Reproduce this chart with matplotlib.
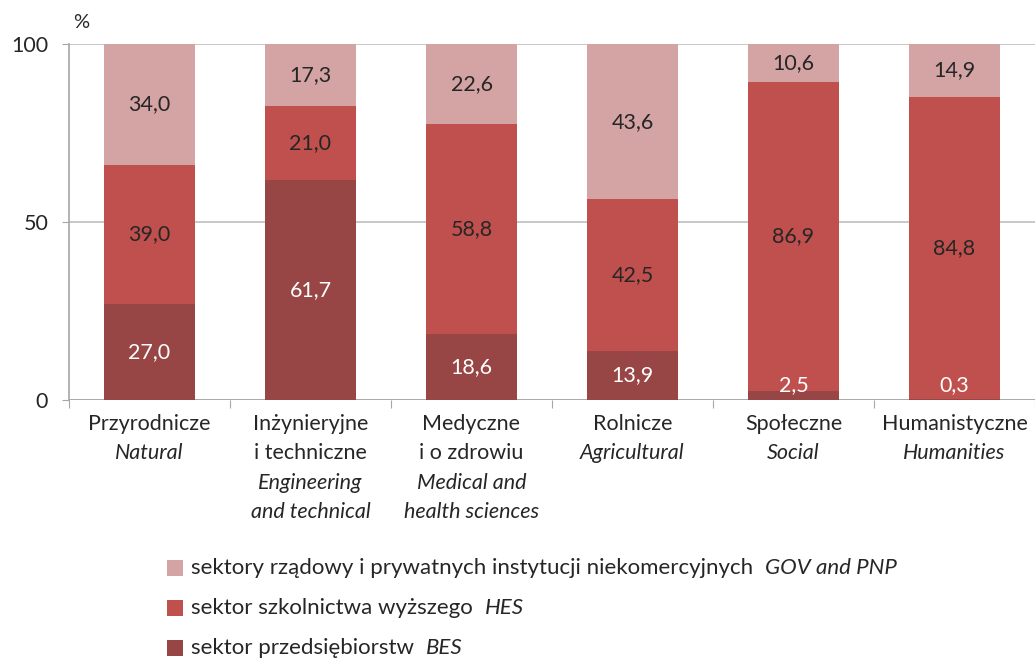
import matplotlib
matplotlib.use("Agg")
import matplotlib.pyplot as plt
from matplotlib.patches import Rectangle
import matplotlib.transforms as mtransforms
import numpy as np

plt.rcParams['font.family'] = ['Lato', 'DejaVu Sans']

categories_pl = ["Przyrodnicze", "Inżynieryjne\ni techniczne", "Medyczne\ni o zdrowiu",
                 "Rolnicze", "Społeczne", "Humanistyczne"]
categories_en = ["Natural", "Engineering\nand technical", "Medical and\nhealth sciences",
                 "Agricultural", "Social", "Humanities"]
bes = [27.0, 61.7, 18.6, 13.9, 2.5, 0.3]
hes = [39.0, 21.0, 58.8, 42.5, 86.9, 84.8]
gov = [34.0, 17.3, 22.6, 43.6, 10.6, 14.9]

legend_pl = ["sektory rządowy i prywatnych instytucji niekomercyjnych", "sektor szkolnictwa wyższego", "sektor przedsiębiorstw"]
legend_en = ["GOV and PNP", "HES", "BES"]

c_gov = "#D4A3A3"
c_hes = "#C0504D"
c_bes = "#984545"
txt = "#262626"

W, H = 1035, 658
fig = plt.figure(figsize=(W/100, H/100), dpi=100)
ax_left = 69
ax = fig.add_axes([ax_left/W, 1-400/H, 1-ax_left/W, 356/H])

x = np.arange(len(categories_pl))
w = 0.565
bes_a = np.array(bes); hes_a = np.array(hes); gov_a = np.array(gov)
ax.bar(x, bes_a, w, color=c_bes, zorder=3)
ax.bar(x, hes_a, w, bottom=bes_a, color=c_hes, zorder=3)
ax.bar(x, gov_a, w, bottom=bes_a + hes_a, color=c_gov, zorder=3)

fs = 15.5
def fmt(v):
    return f"{v:.1f}".replace(".", ",")
for i in range(len(x)):
    yb = max(bes_a[i] / 2, 4.3)
    ax.text(x[i], yb, fmt(bes_a[i]), ha="center", va="center", color="white", fontsize=fs, zorder=4)
    ax.text(x[i], bes_a[i] + hes_a[i] / 2, fmt(hes_a[i]), ha="center", va="center", color=txt, fontsize=fs, zorder=4)
    ax.text(x[i], bes_a[i] + hes_a[i] + gov_a[i] / 2, fmt(gov_a[i]), ha="center", va="center", color=txt, fontsize=fs, zorder=4)

ax.set_xlim(-0.5, len(x) - 0.53)
ax.set_ylim(0, 100)
ax.set_yticks([0, 50, 100])
ax.set_yticklabels(["0", "50", "100"], fontsize=fs, color=txt)
ax.yaxis.grid(True, color="#BFBFBF", linewidth=1.2, zorder=0)
ax.tick_params(axis="y", length=5, color="#A6A6A6", pad=10)
for s in ["top", "right", "bottom"]:
    ax.spines[s].set_visible(False)
ax.spines["left"].set_color("#A6A6A6")
ax.spines["left"].set_linewidth(1.2)

ax.set_xticks(np.arange(-0.5, len(x) + 0.5, 1.0))
ax.set_xticklabels([])
ax.tick_params(axis="x", length=5.5, color="#A6A6A6")
ax.axhline(0, color="#A6A6A6", linewidth=1.2, zorder=2)

blend = mtransforms.blended_transform_factory(ax.transData, fig.transFigure)
for i in range(len(x)):
    lines = [(ln, "normal") for ln in categories_pl[i].split("\n")] + \
            [(ln, "italic") for ln in categories_en[i].split("\n")]
    for k, (ln, st) in enumerate(lines):
        ypx = 424 + k * 29.3
        ax.text(x[i], 1 - ypx / H, ln, transform=blend, ha="center", va="center",
                fontsize=fs, color=txt, style=st)

fig.text(73/W, 1 - 22/H, "%", ha="left", va="center", fontsize=fs - 1, color=txt)

fig.canvas.draw()
renderer = fig.canvas.get_renderer()
leg_cols = [c_gov, c_hes, c_bes]
ys = [568, 608, 648]
lfs = 16
for col, ypx, tpl, ten in zip(leg_cols, ys, legend_pl, legend_en):
    yf = 1 - ypx / H
    fig.add_artist(Rectangle((167/W, yf - 8/H), 16/W, 16/H, transform=fig.transFigure,
                             facecolor=col, edgecolor="none"))
    t = fig.text(191/W, yf, tpl, ha="left", va="center", fontsize=lfs, color=txt)
    bb = t.get_window_extent(renderer)
    fig.text((bb.x1 + 12) / W, yf, ten, ha="left", va="center", fontsize=lfs, color=txt, style="italic")

fig.savefig("out.png", dpi=100)
